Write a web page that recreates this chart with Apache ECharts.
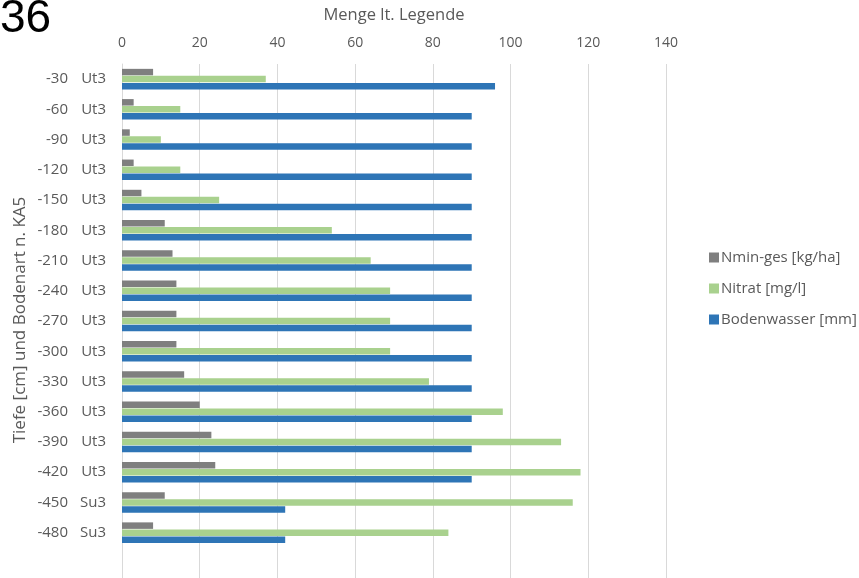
<!DOCTYPE html>
<html>
<head>
<meta charset="utf-8">
<script src="https://cdn.jsdelivr.net/npm/echarts@6/dist/echarts.min.js"></script>
<style>
  html, body { margin: 0; padding: 0; background: #ffffff; }
  #chart { width: 859px; height: 578px; }
</style>
</head>
<body>
<div id="chart"></div>
<script>
// Tiefenprofil: Tiefe [cm] und Bodenart (KA5); last row of the sheet is blank
const depths = ['-30', '-60', '-90', '-120', '-150', '-180', '-210', '-240', '-270', '-300', '-330', '-360', '-390', '-420', '-450', '-480', ''];
const soilTypes = ['Ut3', 'Ut3', 'Ut3', 'Ut3', 'Ut3', 'Ut3', 'Ut3', 'Ut3', 'Ut3', 'Ut3', 'Ut3', 'Ut3', 'Ut3', 'Ut3', 'Su3', 'Su3', ''];

const nminGes = [8, 3, 2, 3, 5, 11, 13, 14, 14, 14, 16, 20, 23, 24, 11, 8, null];
const nitrat = [37, 15, 10, 15, 25, 54, 64, 69, 69, 69, 79, 98, 113, 118, 116, 84, null];
const bodenwasser = [96, 90, 90, 90, 90, 90, 90, 90, 90, 90, 90, 90, 90, 90, 42, 42, null];

const xTicks = [0, 20, 40, 60, 80, 100, 120, 140];

const categories = depths.map((d, i) => d + '|' + soilTypes[i]);

const FONT = '"Open Sans", sans-serif';
const TEXT = '#595959';

const chart = echarts.init(document.getElementById('chart'), null, { renderer: 'canvas' });

chart.setOption({
  backgroundColor: '#ffffff',
  animation: false,
  textStyle: { fontFamily: FONT },
  graphic: [
    {
      type: 'text',
      left: 0,
      top: -4,
      style: { text: '36', font: '46px "Liberation Sans", Arial, sans-serif', fill: '#000000' }
    },
    {
      // vertical axis title, centred on the plot area
      type: 'text',
      x: 20,
      y: 320,
      rotation: Math.PI / 2,
      style: {
        text: 'Tiefe [cm] und Bodenart n. KA5',
        fill: TEXT,
        font: '17px "Open Sans", sans-serif',
        align: 'center',
        verticalAlign: 'middle'
      }
    }
  ],
  legend: {
    orient: 'vertical',
    left: 704,
    top: 245,
    itemWidth: 10,
    itemHeight: 10,
    itemGap: 16,
    icon: 'rect',
    textStyle: { color: TEXT, fontSize: 15, fontFamily: FONT, padding: [0, 0, 0, -3] },
    data: ['Nmin-ges [kg/ha]', 'Nitrat [mg/l]', 'Bodenwasser [mm]']
  },
  grid: { left: 122, right: 193, top: 64, bottom: 0, containLabel: false },
  xAxis: {
    type: 'value',
    position: 'top',
    min: xTicks[0],
    max: xTicks[xTicks.length - 1],
    interval: xTicks[1] - xTicks[0],
    name: 'Menge lt. Legende',
    nameLocation: 'middle',
    nameGap: 40,
    nameTextStyle: { color: TEXT, fontSize: 16.5, fontFamily: FONT },
    axisLine: { show: false },
    axisTick: { show: false },
    axisLabel: { color: TEXT, fontSize: 14, fontFamily: FONT, margin: 14 },
    splitLine: { show: true, lineStyle: { color: '#d9d9d9', width: 1 } }
  },
  yAxis: {
    type: 'category',
    inverse: true,
    data: categories,
    axisLine: { show: true, lineStyle: { color: '#d9d9d9', width: 1 } },
    axisTick: { show: false },
    axisLabel: {
      margin: 16,
      interval: 0,
      formatter: v => {
        const [d, s] = v.split('|');
        return d === '' ? '' : '{d|' + d + '}{s|' + s + '}';
      },
      rich: {
        d: { color: TEXT, fontSize: 15, fontFamily: FONT, align: 'right' },
        s: { color: TEXT, fontSize: 15, fontFamily: FONT, width: 38, align: 'right' }
      }
    }
  },
  series: [
    {
      name: 'Nmin-ges [kg/ha]',
      type: 'bar',
      data: nminGes,
      barWidth: 6.5,
      barGap: '8%',
      itemStyle: { color: '#7f7f7f' }
    },
    {
      name: 'Nitrat [mg/l]',
      type: 'bar',
      data: nitrat,
      barWidth: 6.5,
      barGap: '8%',
      itemStyle: { color: '#a9d18e' }
    },
    {
      name: 'Bodenwasser [mm]',
      type: 'bar',
      data: bodenwasser,
      barWidth: 6.5,
      barGap: '8%',
      itemStyle: { color: '#2e75b6' }
    }
  ]
});
</script>
</body>
</html>
